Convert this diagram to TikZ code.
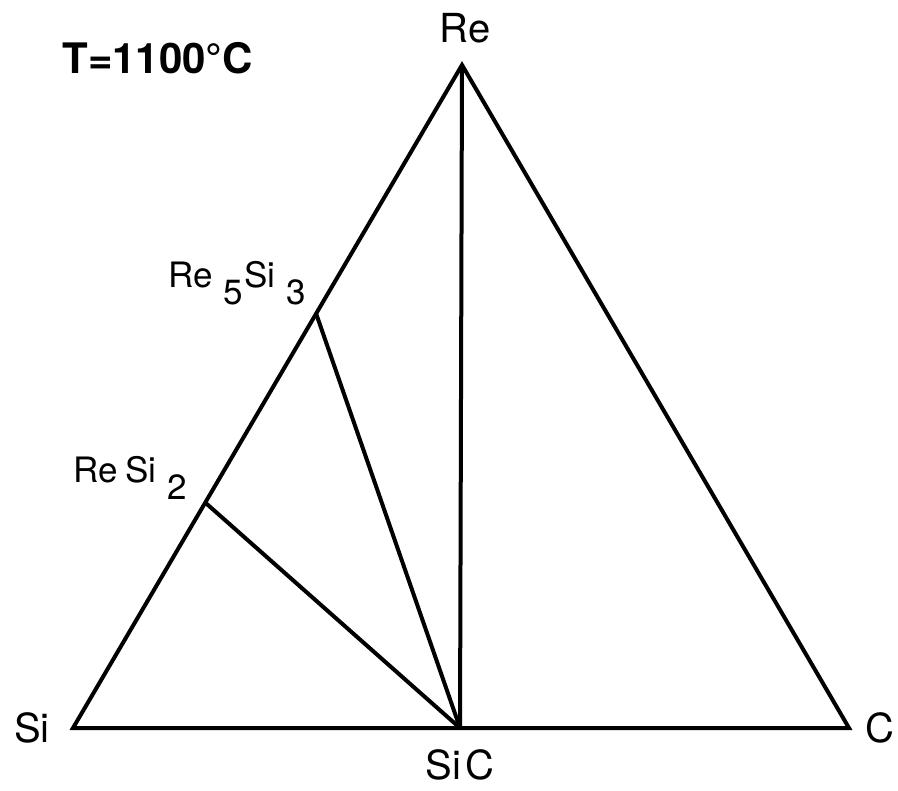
\documentclass[tikz,border=0pt]{standalone}
\usepackage{fontspec}
\setmainfont{TeX Gyre Heros}
\usetikzlibrary{calc}
\newcommand{\dsub}[1]{\hspace{0.3em}\raisebox{-0.5em}{#1}\hspace{0.05em}}

\begin{document}
\begin{tikzpicture}[
  x=0.5pt, y=-0.5pt,
  edge/.style={line width=2pt, line join=miter},
  lab/.style={font=\fontsize{20}{24}\selectfont, inner sep=0pt},
  cmp/.style={font=\fontsize{17.5}{20}\selectfont, inner sep=0pt}
]
\useasboundingbox (0,0) rectangle (898,791);
% corners of the triangle and the compounds
\coordinate (Re) at (462,65);
\coordinate (Si) at (73,728);
\coordinate (C) at (849,728);
\coordinate (SiC) at (460,728);
\coordinate (Re5Si3) at ($(Si)!0.625!(Re)$);
\coordinate (ReSi2) at ($(Si)!0.34!(Re)$);
% labels
\node[lab, font=\fontsize{21}{24}\selectfont\bfseries, anchor=west] (temp) at (62,58) {T=1100°C};
\node[lab] (reLab) at (465,28) {Re};
\node[lab] (siLab) at (32,728) {Si};
\node[lab] (cLab) at (880,728) {C};
\node[lab] (sicLab) at (460,765) {Si\hspace{0.1em}C};
\node[cmp, anchor=base east] (re5si3Lab) at (306,287) {Re\dsub{5}Si\dsub{3}};
\node[cmp, anchor=base east] (resi2Lab) at (187,482) {Re\hspace{0.22em}Si\dsub{2}};
% triangle and tie lines
\draw[edge] (Si) -- (Re) -- (C) -- cycle;
\draw[edge] (Re) -- (SiC);
\draw[edge] (Re5Si3) -- (SiC);
\draw[edge] (ReSi2) -- (SiC);
\end{tikzpicture}
\end{document}
